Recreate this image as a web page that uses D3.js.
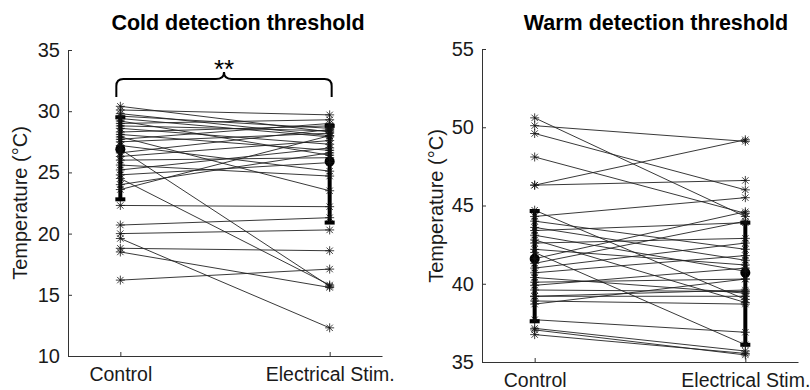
<!DOCTYPE html>
<html><head><meta charset="utf-8">
<script src="https://cdn.jsdelivr.net/npm/d3@7"></script>
<style>
body{margin:0;background:#fff;}
svg{display:block;font-family:"Liberation Sans",Arial,Helvetica,sans-serif;}
</style></head>
<body><svg id="c" width="810" height="390"></svg>
<script>
const categories = ["Control", "Electrical Stim."];

const coldControl = [30.4,30.1,29.8,29.6,29.4,29.2,29.0,28.8,28.6,28.3,28.1,27.9,27.7,27.5,27.2,26.9,26.6,26.3,26.0,25.6,25.2,24.8,24.5,24.0,23.6,22.3,20.7,20.0,19.6,18.8,18.5,16.2];
const coldStim    = [28.3,29.7,28.0,28.6,27.9,26.4,29.3,28.4,27.3,28.8,26.8,23.5,29.0,28.2,25.1,15.7,28.5,27.6,26.2,24.7,27.0,25.8,15.8,26.6,28.0,22.2,21.3,20.3,12.3,18.6,15.6,17.1];

const warmControl = [50.6,50.1,49.6,48.1,46.3,46.3,44.7,44.3,44.0,43.6,43.4,43.1,42.8,42.6,42.2,42.0,41.6,41.3,41.0,40.7,40.4,40.1,39.9,39.6,39.2,39.2,38.9,38.7,37.7,37.15,37.05,36.75];
const warmStim    = [44.3,49.1,46.0,44.5,49.2,46.6,39.0,45.5,42.2,41.5,43.9,40.8,38.8,42.9,41.2,36.1,44.6,44.0,42.6,41.8,39.4,40.3,41.0,39.5,39.6,39.2,38.7,40.3,36.9,35.7,35.45,35.55];

// summary markers: [centre, low, high]
const coldSummary = [[26.9,22.8,29.5],[25.9,20.9,28.8]];
const warmSummary = [[41.6,37.6,44.65],[40.7,36.1,43.9]];

const coldTicks = [10,15,20,25,30,35];
const warmTicks = [35,40,45,50,55];

const svg = d3.select("#c");
const ink = "#1a1a1a";

function starPath(r){
  const d = r*0.7071;
  return `M0,${-r}L0,${r}M${-r},0L${r},0M${-d},${-d}L${d},${d}M${-d},${d}L${d},${-d}`;
}

function panel(cfg){
  const x = d3.scaleLinear().domain([0.75,2.25]).range(cfg.xr);
  const y = d3.scaleLinear().domain(cfg.yd).range(cfg.yr);
  const g = svg.append("g");

  const ya = g.append("g").attr("transform",`translate(${cfg.xr[0]},0)`)
    .call(d3.axisLeft(y).tickValues(cfg.ticks).tickSizeInner(-4).tickSizeOuter(0).tickPadding(8));
  const xa = g.append("g").attr("transform",`translate(0,${cfg.yr[0]})`)
    .call(d3.axisBottom(x).tickValues([1,2]).tickFormat((d,i)=>categories[i]).tickSizeInner(-4).tickSizeOuter(0).tickPadding(11));
  [ya,xa].forEach(a=>{
    a.select(".domain").attr("stroke","#333").attr("stroke-width",1);
    a.selectAll(".tick line").attr("stroke","#333").attr("stroke-width",1);
    a.selectAll("text").attr("font-size",20).attr("fill",ink).attr("font-family",null);
  });
  xa.selectAll("text").attr("font-size",19.5);

  g.append("text").attr("x",cfg.titleX).attr("y",30).attr("text-anchor","middle")
    .attr("font-size",21.5).attr("font-weight","bold").attr("fill","#000").text(cfg.title);
  g.append("text").attr("transform",`translate(${cfg.ylabX},${cfg.ylabY}) rotate(-90)`)
    .attr("text-anchor","middle").attr("font-size",20).attr("fill",ink).text("Temperature (°C)");

  const pairs = cfg.a.map((v,i)=>[v,cfg.b[i]]);
  g.append("g").selectAll("line").data(pairs).join("line")
    .attr("x1",x(1)).attr("x2",x(2)).attr("y1",d=>y(d[0])).attr("y2",d=>y(d[1]))
    .attr("stroke","#222").attr("stroke-width",0.9);

  const eb = g.append("g");
  cfg.summary.forEach((s,i)=>{
    const cx = x(i+1);
    eb.append("line").attr("x1",cx).attr("x2",cx).attr("y1",y(s[1])).attr("y2",y(s[2]))
      .attr("stroke","#000").attr("stroke-width",4);
    [s[1],s[2]].forEach(v=>eb.append("line").attr("x1",cx-5).attr("x2",cx+5).attr("y1",y(v)).attr("y2",y(v))
      .attr("stroke","#000").attr("stroke-width",4));
    eb.append("circle").attr("cx",cx).attr("cy",y(s[0])).attr("r",5).attr("fill","#000");
  });

  const pts = [];
  cfg.a.forEach(v=>pts.push([1,v]));
  cfg.b.forEach(v=>pts.push([2,v]));
  g.append("g").selectAll("path").data(pts).join("path")
    .attr("transform",d=>`translate(${x(d[0])},${y(d[1])})`)
    .attr("d",starPath(4.5)).attr("stroke","#111").attr("stroke-width",0.8).attr("fill","none");
  return {x,y,g};
}

const L = panel({xr:[68,382], yr:[356,50], yd:[10,35], ticks:coldTicks, a:coldControl, b:coldStim,
  summary:coldSummary, title:"Cold detection threshold", titleX:238, ylabX:27, ylabY:203});
const R = panel({xr:[482,798], yr:[362,49], yd:[35,55], ticks:warmTicks, a:warmControl, b:warmStim,
  summary:warmSummary, title:"Warm detection threshold", titleX:656, ylabX:443, ylabY:206});

const bx1 = L.x(1)-4, bx2 = L.x(2)+2, bm = (bx1+bx2)/2, by = 79;
L.g.append("path")
  .attr("d",`M${bx1},97L${bx1},${by+7}Q${bx1},${by} ${bx1+7},${by}L${bm-8},${by}Q${bm},${by} ${bm},${by-7}Q${bm},${by} ${bm+8},${by}L${bx2-7},${by}Q${bx2},${by} ${bx2},${by+7}L${bx2},97`)
  .attr("fill","none").attr("stroke","#000").attr("stroke-width",2);
L.g.append("text").attr("x",bm).attr("y",78).attr("text-anchor","middle").attr("font-size",26).attr("fill","#000").text("**");
</script></body></html>
